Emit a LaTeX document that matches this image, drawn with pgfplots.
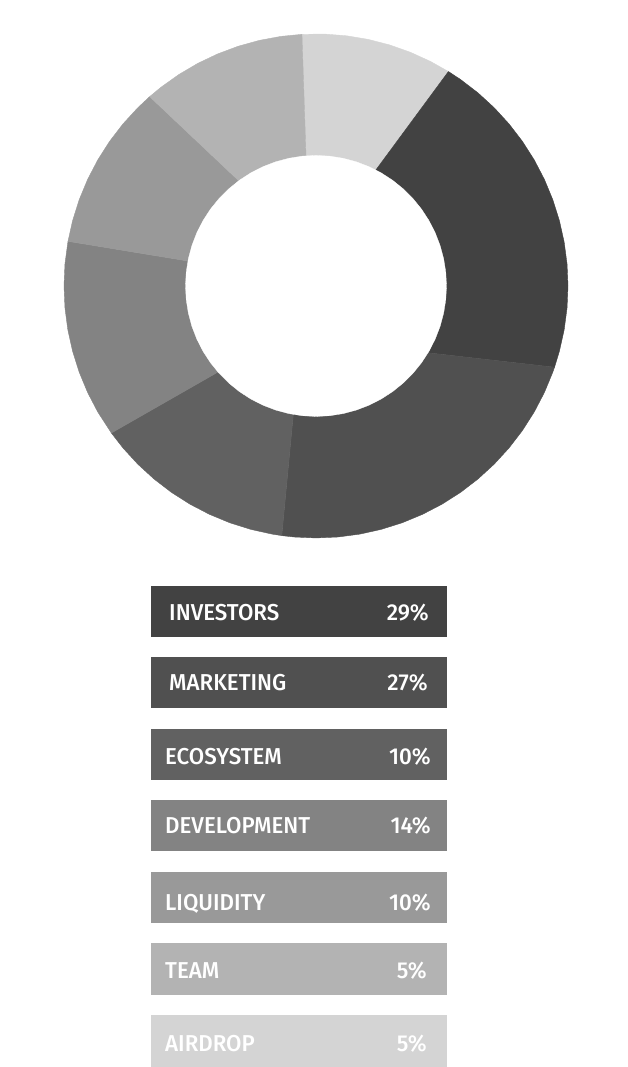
\documentclass[border=0pt]{standalone}
\usepackage{pgfplots}
\pgfplotsset{compat=1.18}
\usepackage{fontspec}
\setmainfont{Fira Sans}
\newfontfamily\lf{Fira Sans Medium}[FakeStretch=0.97]
\definecolor{cInv}{HTML}{424242}
\definecolor{cMkt}{HTML}{505050}
\definecolor{cEco}{HTML}{616161}
\definecolor{cDev}{HTML}{838383}
\definecolor{cLiq}{HTML}{999999}
\definecolor{cTeam}{HTML}{B3B3B3}
\definecolor{cAir}{HTML}{D4D4D4}
\begin{document}
\begin{tikzpicture}
\path[use as bounding box] (0,0) rectangle (627pt,1067pt);
\begin{axis}[at={(0,0)}, anchor=south west, scale only axis,
  width=627pt, height=1067pt,
  xmin=-316, xmax=311, ymin=-781, ymax=286,
  hide axis, clip=false]
% donut sectors: (angle, radius); outer radius 252, inner 130.5
\addplot[data cs=polar, fill=cAir, draw=cAir, line width=0.4pt] coordinates {
 (58.3,252)(63,252)(68,252)(73,252)(78,252)(83,252)(88,252)(93.2,252)
 (94.4,130.5)(62.7,130.5)} -- cycle;
\addplot[data cs=polar, fill=cInv, draw=cInv, line width=0.4pt] coordinates {
 (-18.8,252)(-15,252)(-10,252)(-5,252)(0,252)(5,252)(10,252)(15,252)(20,252)
 (25,252)(30,252)(35,252)(40,252)(45,252)(50,252)(55,252)(58.3,252)
 (62.7,130.5)(-30.8,130.5)} -- cycle;
\addplot[data cs=polar, fill=cMkt, draw=cMkt, line width=0.4pt] coordinates {
 (-97.8,252)(-95,252)(-90,252)(-85,252)(-80,252)(-75,252)(-70,252)(-65,252)
 (-60,252)(-55,252)(-50,252)(-45,252)(-40,252)(-35,252)(-30,252)(-25,252)
 (-20,252)(-18.8,252)
 (-30.8,130.5)(-100,130.5)} -- cycle;
\addplot[data cs=polar, fill=cEco, draw=cEco, line width=0.4pt] coordinates {
 (215.7,252)(220,252)(225,252)(230,252)(235,252)(240,252)(245,252)(250,252)
 (255,252)(260,252)(262.2,252)
 (260,130.5)(221.3,130.5)} -- cycle;
\addplot[data cs=polar, fill=cDev, draw=cDev, line width=0.4pt] coordinates {
 (169.8,252)(175,252)(180,252)(185,252)(190,252)(195,252)(200,252)(205,252)
 (210,252)(215.7,252)
 (221.3,130.5)(169,130.5)} -- cycle;
\addplot[data cs=polar, fill=cLiq, draw=cLiq, line width=0.4pt] coordinates {
 (131.3,252)(135,252)(140,252)(145,252)(150,252)(155,252)(160,252)(165,252)
 (169.8,252)
 (169,130.5)(126.3,130.5)} -- cycle;
\addplot[data cs=polar, fill=cTeam, draw=cTeam, line width=0.4pt] coordinates {
 (93.2,252)(98,252)(103,252)(108,252)(113,252)(118,252)(123,252)(128,252)
 (131.3,252)
 (126.3,130.5)(94.4,130.5)} -- cycle;
% hole
\addplot[data cs=polar, fill=white, draw=white, line width=0.3pt] coordinates {
 (0,130.5)(6,130.5)(12,130.5)(18,130.5)(24,130.5)(30,130.5)(36,130.5)(42,130.5)
 (48,130.5)(54,130.5)(60,130.5)(66,130.5)(72,130.5)(78,130.5)(84,130.5)(90,130.5)
 (96,130.5)(102,130.5)(108,130.5)(114,130.5)(120,130.5)(126,130.5)(132,130.5)
 (138,130.5)(144,130.5)(150,130.5)(156,130.5)(162,130.5)(168,130.5)(174,130.5)
 (180,130.5)(186,130.5)(192,130.5)(198,130.5)(204,130.5)(210,130.5)(216,130.5)
 (222,130.5)(228,130.5)(234,130.5)(240,130.5)(246,130.5)(252,130.5)(258,130.5)
 (264,130.5)(270,130.5)(276,130.5)(282,130.5)(288,130.5)(294,130.5)(300,130.5)
 (306,130.5)(312,130.5)(318,130.5)(324,130.5)(330,130.5)(336,130.5)(342,130.5)
 (348,130.5)(354,130.5)} -- cycle;
% legend boxes
\addplot[fill=cInv, draw=none] coordinates {(-165,-300)(131,-300)(131,-351)(-165,-351)} -- cycle;
\addplot[fill=cMkt, draw=none] coordinates {(-165,-371)(131,-371)(131,-422)(-165,-422)} -- cycle;
\addplot[fill=cEco, draw=none] coordinates {(-165,-443)(131,-443)(131,-494)(-165,-494)} -- cycle;
\addplot[fill=cDev, draw=none] coordinates {(-165,-514)(131,-514)(131,-565)(-165,-565)} -- cycle;
\addplot[fill=cLiq, draw=none] coordinates {(-165,-586)(131,-586)(131,-637)(-165,-637)} -- cycle;
\addplot[fill=cTeam, draw=none] coordinates {(-165,-657)(131,-657)(131,-709)(-165,-709)} -- cycle;
\addplot[fill=cAir, draw=none] coordinates {(-165,-729)(131,-729)(131,-781)(-165,-781)} -- cycle;
\tikzset{lab/.style={text=white, inner sep=0pt, font=\lf\fontsize{23}{23}\selectfont}}
\node[lab, anchor=base west] at (axis cs:-147,-335) {INVESTORS};
\node[lab, anchor=base east] at (axis cs:113,-335) {29\%};
\node[lab, anchor=base west] at (axis cs:-147,-405) {MARKETING};
\node[lab, anchor=base east] at (axis cs:112,-405) {27\%};
\node[lab, anchor=base west] at (axis cs:-151,-479) {ECOSYSTEM};
\node[lab, anchor=base east] at (axis cs:115,-479) {10\%};
\node[lab, anchor=base west] at (axis cs:-151,-548) {DEVELOPMENT};
\node[lab, anchor=base east] at (axis cs:115,-548) {14\%};
\node[lab, anchor=base west] at (axis cs:-151,-625) {LIQUIDITY};
\node[lab, anchor=base east] at (axis cs:115,-625) {10\%};
\node[lab, anchor=base west] at (axis cs:-151,-693) {TEAM};
\node[lab, anchor=base east] at (axis cs:111,-693) {5\%};
\node[lab, anchor=base west] at (axis cs:-151,-766) {AIRDROP};
\node[lab, anchor=base east] at (axis cs:111,-766) {5\%};
\end{axis}
\end{tikzpicture}
\end{document}
